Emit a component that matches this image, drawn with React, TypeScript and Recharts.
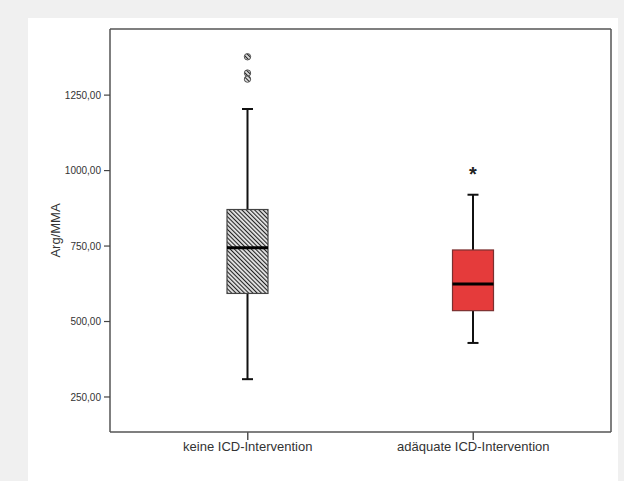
import React from "react";
import {
    ComposedChart,
    Bar,
    XAxis,
    YAxis,
    Cell,
} from "recharts";

// boxplot stats
const groups = ["keine ICD-Intervention", "adäquate ICD-Intervention"];
const whiskerLow = [309, 429];
const q1 = [593, 536];
const median = [744, 624];
const q3 = [871, 737];
const whiskerHigh = [1204, 920];
const outliers = [[1377, 1323, 1303], []];
const extremes = [[], [1002]];
const yTicks = [250, 500, 750, 1000, 1250];

const Y_DOMAIN = [134, 1469];
const BOX_FILLS = ["url(#hatch)", "#e53b3b"];
const BOX_STROKES = ["#444", "#7b3030"];
const FONT = "'Liberation Sans', Arial, sans-serif";
const FRAME = { stroke: "#555", strokeWidth: 1.5 };

const data = groups.map((name, i) => ({
    name,
    range: [whiskerLow[i], whiskerHigh[i]],
    lo: whiskerLow[i],
    hi: whiskerHigh[i],
    q1: q1[i],
    med: median[i],
    q3: q3[i],
    out: outliers[i],
    ext: extremes[i],
    idx: i,
}));

const BoxShape = (props: any) => {
    const { x, y, width, height, payload } = props;
    const top = Math.min(y, y + height);
    const h = Math.abs(height);
    // map a value with the same linear scale the bar was drawn with
    const py = (v: number) => top + ((payload.hi - v) * h) / (payload.hi - payload.lo);
    const cx = x + width / 2;
    const cap = 5.5;
    const i = payload.idx;
    return (
        <g>
            <line x1={cx} x2={cx} y1={py(payload.hi)} y2={py(payload.q3)} stroke="#111" strokeWidth={2} />
            <line x1={cx} x2={cx} y1={py(payload.q1)} y2={py(payload.lo)} stroke="#111" strokeWidth={2} />
            <line x1={cx - cap} x2={cx + cap} y1={py(payload.hi)} y2={py(payload.hi)} stroke="#111" strokeWidth={2} />
            <line x1={cx - cap} x2={cx + cap} y1={py(payload.lo)} y2={py(payload.lo)} stroke="#111" strokeWidth={2} />
            <rect
                x={x}
                y={py(payload.q3)}
                width={width}
                height={py(payload.q1) - py(payload.q3)}
                fill={BOX_FILLS[i]}
                stroke={BOX_STROKES[i]}
                strokeWidth={1.2}
            />
            <line x1={x} x2={x + width} y1={py(payload.med)} y2={py(payload.med)} stroke="#000" strokeWidth={3} />
            {payload.out.map((v: number, k: number) => (
                <circle key={`o${k}`} cx={cx} cy={py(v)} r={3.2} fill="url(#hatch)" stroke="#555" strokeWidth={1} />
            ))}
            {payload.ext.map((v: number, k: number) => (
                <text
                    key={`e${k}`}
                    x={cx}
                    y={py(v) + 11}
                    textAnchor="middle"
                    fontSize={20}
                    fontWeight="bold"
                    fontFamily={FONT}
                    fill="#222"
                >
                    *
                </text>
            ))}
        </g>
    );
};

const fmt = (v: number) => v.toFixed(2).replace(".", ",");

export default function App() {
    return (
        <div style={{ position: "absolute", left: 0, top: 0, width: 624, height: 481, background: "#f0f0f0" }}>
            <div style={{ position: "absolute", left: 28, top: 18, width: 590, height: 463, background: "#fff" }}>
                <ComposedChart
                    width={590}
                    height={463}
                    data={data}
                    margin={{ top: 10, right: 6, bottom: 19, left: 10 }}
                >
                    <defs>
                        <pattern id="hatch" width="3" height="3" patternUnits="userSpaceOnUse" patternTransform="rotate(-45)">
                            <rect width="3" height="3" fill="#fff" />
                            <rect x="0" width="1" height="3" fill="#222" />
                            <rect x="1.5" width="0.8" height="3" fill="#aaa" />
                        </pattern>
                    </defs>
                    <XAxis
                        dataKey="name"
                        padding={{ left: 25, right: 25 }}
                        tick={{ fontSize: 13, fill: "#333", fontFamily: FONT }}
                        tickSize={8}
                        tickMargin={2}
                        height={30}
                        axisLine={FRAME}
                        tickLine={FRAME}
                    />
                    <XAxis
                        xAxisId="top"
                        orientation="top"
                        dataKey="name"
                        padding={{ left: 25, right: 25 }}
                        height={1}
                        tick={false}
                        tickLine={false}
                        axisLine={FRAME}
                    />
                    <YAxis
                        domain={Y_DOMAIN}
                        ticks={yTicks}
                        tickFormatter={fmt}
                        width={72}
                        tickSize={6}
                        tickMargin={3}
                        tick={{ fontSize: 10, fill: "#333", fontFamily: FONT }}
                        axisLine={FRAME}
                        tickLine={{ stroke: "#444", strokeWidth: 1.2 }}
                        label={{
                            value: "Arg/MMA",
                            angle: -90,
                            position: "insideLeft",
                            offset: 17,
                            style: { textAnchor: "middle", fontSize: 13, fill: "#333", fontFamily: FONT },
                        }}
                    />
                    <YAxis
                        yAxisId="right"
                        orientation="right"
                        domain={Y_DOMAIN}
                        width={1}
                        tick={false}
                        tickLine={false}
                        axisLine={FRAME}
                    />
                    <Bar dataKey="range" barSize={41} shape={<BoxShape />} isAnimationActive={false}>
                        {data.map((d, i) => (
                            <Cell key={`c-${i}`} />
                        ))}
                    </Bar>
                </ComposedChart>
            </div>
        </div>
    );
}
